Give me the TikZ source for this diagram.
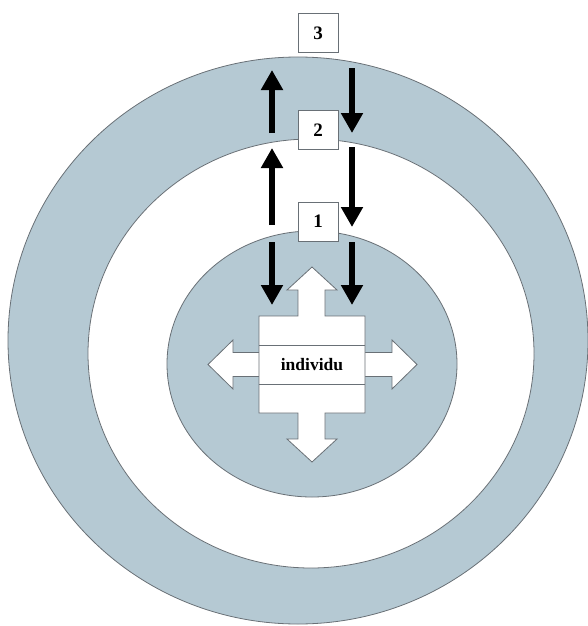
\documentclass[tikz,border=0pt]{standalone}
\usepackage{fontspec}
\setmainfont{Liberation Serif}
\usetikzlibrary{arrows.meta}
\definecolor{ringblue}{RGB}{181,201,211}
\definecolor{edgegray}{RGB}{105,112,118}
\tikzset{
  ring/.style={fill=ringblue, draw=edgegray, line width=0.8pt},
  hole/.style={fill=white, draw=edgegray, line width=0.8pt},
  levelbox/.style={draw=edgegray, fill=white, line width=0.8pt, minimum width=40pt,
    minimum height=39pt, inner sep=0pt, font=\fontsize{19}{22}\selectfont\bfseries},
  flow/.style={line width=6.5pt, -{Triangle[width=21pt,length=20pt]}},
  blockarrow/.style={fill=white, draw=edgegray, line width=0.8pt, line join=miter},
}
\begin{document}
\begin{tikzpicture}[x=1pt, y=-1pt]
\useasboundingbox (0,0) rectangle (587,626);
% nested levels
\draw[ring] (298,340.5) ellipse [x radius=290, y radius=283.5];
\draw[hole] (311,353.5) ellipse [x radius=223, y radius=214.5];
\draw[ring] (312,364) ellipse [x radius=145, y radius=133];

% level labels
\node[levelbox] (b3) at (318,33) {3};
\node[levelbox] (b2) at (318,130) {2};
\node[levelbox] (b1) at (318,221.5) {1};

% horizontal double block arrow
\draw[blockarrow] (259,352.5) -- (233,352.5) -- (233,340) -- (208,364.5) -- (233,389)
  -- (233,376.5) -- (365,376.5) -- (392,376.5) -- (392,389) -- (417,364.5)
  -- (392,340) -- (392,352.5) -- cycle;
% central block with vertical double arrow
\draw[blockarrow] (259,316) -- (298,316) -- (298,290) -- (287,290) -- (312,267)
  -- (337,290) -- (325,290) -- (325,316) -- (365,316) -- (365,413) -- (325,413)
  -- (325,439) -- (337,439) -- (312,462) -- (287,439) -- (298,439) -- (298,413)
  -- (259,413) -- cycle;
\draw[edgegray, line width=0.8pt] (259,345) -- (365,345);
\draw[edgegray, line width=0.8pt] (259,384) -- (365,384);
\node[font=\fontsize{17.5}{20}\selectfont\bfseries] (ind) at (312,364.5) {individu};

% exchange arrows between levels
\coordinate (u1s) at (272,133); \coordinate (u1t) at (272,70);
\coordinate (u2s) at (272,225); \coordinate (u2t) at (272,148);
\coordinate (u3s) at (272,242); \coordinate (u3t) at (272,305);
\coordinate (d1s) at (352,68);  \coordinate (d1t) at (352,133);
\coordinate (d2s) at (352,147); \coordinate (d2t) at (352,227);
\coordinate (d3s) at (352,242); \coordinate (d3t) at (352,305);
\draw[flow] (u1s) -- (u1t);
\draw[flow] (u2s) -- (u2t);
\draw[flow] (u3s) -- (u3t);
\draw[flow] (d1s) -- (d1t);
\draw[flow] (d2s) -- (d2t);
\draw[flow] (d3s) -- (d3t);
\end{tikzpicture}
\end{document}
